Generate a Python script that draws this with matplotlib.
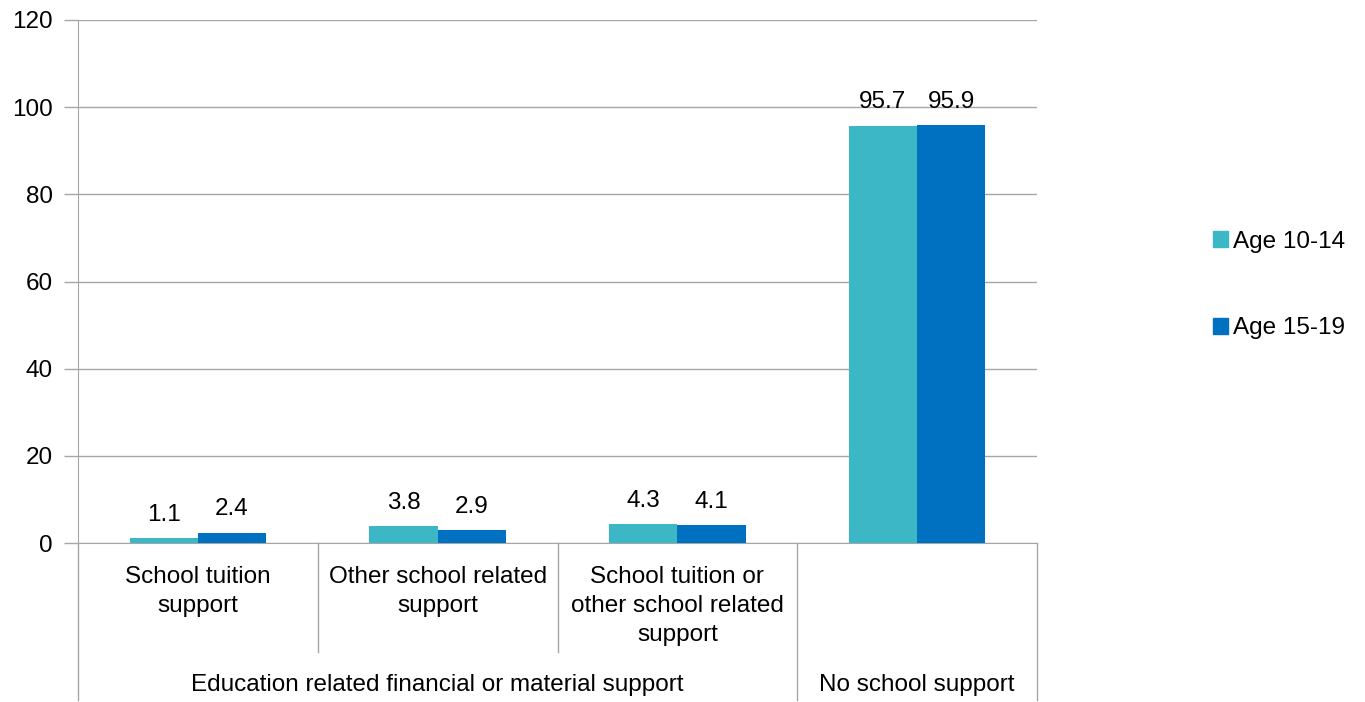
import matplotlib
matplotlib.use("Agg")
import matplotlib.pyplot as plt
import numpy as np
from matplotlib.patches import Patch
from matplotlib.lines import Line2D

plt.rcParams['font.family'] = ['Liberation Sans', 'DejaVu Sans']

categories = ["School tuition\nsupport", "Other school related\nsupport",
              "School tuition or\nother school related\nsupport", ""]
groups = ["Education related financial or material support", "No school support"]
series_names = ["Age 10-14", "Age 15-19"]
age_10_14 = [1.1, 3.8, 4.3, 95.7]
age_15_19 = [2.4, 2.9, 4.1, 95.9]
colors = ["#3BB7C5", "#0070C0"]

W, H = 1365, 702
fig = plt.figure(figsize=(W / 100, H / 100), dpi=100)
x0, x1, ytop, ybot = 78, 1037, 20, 543
ax = fig.add_axes([x0 / W, 1 - ybot / H, (x1 - x0) / W, (ybot - ytop) / H])

x = np.arange(len(categories))
bw = 0.285
b1 = ax.bar(x - bw / 2, age_10_14, bw, color=colors[0], label=series_names[0], zorder=3)
b2 = ax.bar(x + bw / 2, age_15_19, bw, color=colors[1], label=series_names[1], zorder=3)

fs = 17.5
for bars, vals in ((b1, age_10_14), (b2, age_15_19)):
    for r, v in zip(bars, vals):
        ax.annotate(f"{v:.1f}", (r.get_x() + r.get_width() / 2, v), xytext=(0, 9),
                    textcoords="offset points", ha="center", va="bottom", fontsize=fs)

ax.set_xlim(-0.5, len(categories) - 0.5)
ax.set_ylim(0, 120)
ax.set_yticks(np.arange(0, 121, 20))
ax.tick_params(axis='y', labelsize=fs, length=10, color="#A6A6A6", width=1, pad=8)
ax.yaxis.grid(True, color="#A6A6A6", linewidth=1, zorder=0)
ax.set_xticks([])
for s in ("top", "right"):
    ax.spines[s].set_visible(False)
ax.spines["left"].set_color("#A6A6A6")
ax.spines["bottom"].set_color("#A6A6A6")

trans = ax.get_xaxis_transform()

def ax_y(py):
    return (ybot - py) / (ybot - ytop)

for i, c in enumerate(categories):
    ax.text(i, ax_y(566), c, transform=trans, ha="center", va="top", fontsize=fs,
            linespacing=1.42, clip_on=False)

sep_lines = [(-0.5, 700), (0.5, 652), (1.5, 652), (2.5, 700), (3.5, 700)]
for xs, yend in sep_lines:
    ax.add_line(Line2D([xs, xs], [0, ax_y(yend)], transform=trans, color="#A6A6A6",
                       linewidth=1, clip_on=False))

ax.text(1.0, ax_y(685), groups[0], transform=trans, ha="center", va="center", fontsize=fs)
ax.text(3.0, ax_y(685), groups[1], transform=trans, ha="center", va="center", fontsize=fs)

handles = [Patch(color=colors[0], label=series_names[0]),
           Patch(color=colors[1], label=series_names[1])]
fig.legend(handles=handles, loc="center left", bbox_to_anchor=(1201 / W, 1 - 285 / H),
           frameon=False, fontsize=fs, handlelength=0.62, handleheight=0.62,
           handletextpad=0.2, labelspacing=2.65, borderpad=0)

fig.savefig("out.png", dpi=100)
